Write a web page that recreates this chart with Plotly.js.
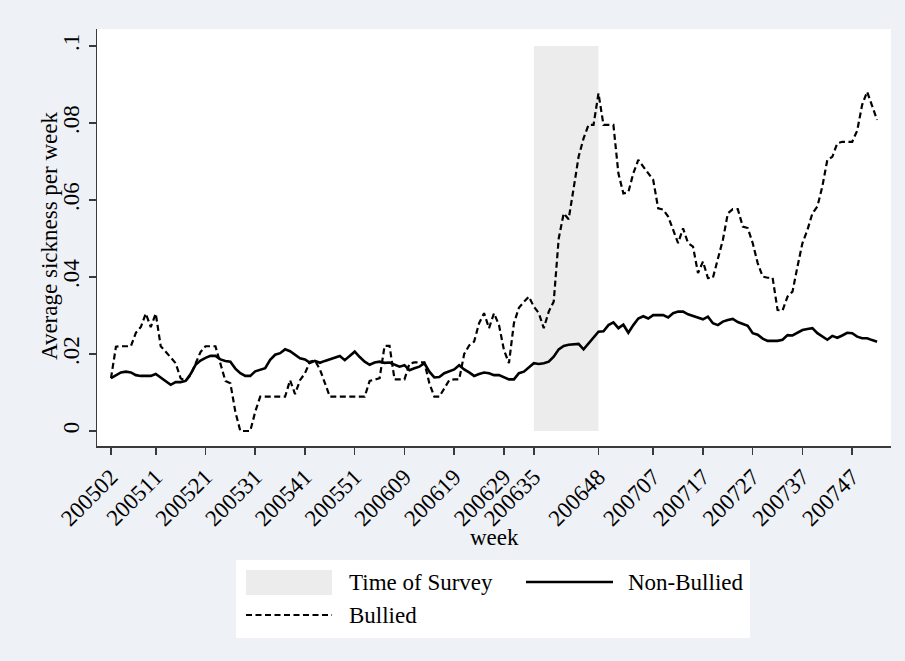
<!DOCTYPE html>
<html>
<head>
<meta charset="utf-8">
<script src="https://cdn.plot.ly/plotly-3.0.1.min.js"></script>
<style>
  html, body { margin: 0; padding: 0; background: #eef1f6; }
  #chart { width: 905px; height: 661px; }
</style>
</head>
<body>
<div id="chart"></div>
<script>
// Weekly observations run from week 2 of 2005 to week 52 of 2007.
const firstWeek = 200502;
const lastWeek = 200752;

// Average sickness per week, bullied employees (dashed line).
const bullied = [
  0.0137, 0.0219, 0.022, 0.022, 0.022, 0.0255, 0.027, 0.0305, 0.027, 0.0305,
  0.022, 0.0206, 0.019, 0.0176, 0.0137, 0.013, 0.0145, 0.0175, 0.0205, 0.022,
  0.022, 0.022, 0.0175, 0.013, 0.0124, 0.005, 0.0, 0.0, 0.0, 0.005,
  0.0089, 0.0089, 0.0089, 0.0089, 0.0089, 0.0089, 0.0132, 0.0096, 0.0132, 0.015,
  0.018, 0.0183, 0.016, 0.0125, 0.0089, 0.0089, 0.0089, 0.0089, 0.0089, 0.0089,
  0.0089, 0.0089, 0.013, 0.0134, 0.0137, 0.0221, 0.0221, 0.0134, 0.0134, 0.0134,
  0.0175, 0.0178, 0.0178, 0.0178, 0.0124, 0.0089, 0.0089, 0.0111, 0.0132, 0.0134,
  0.0134, 0.02, 0.0222, 0.0232, 0.028, 0.0306, 0.0267, 0.0306, 0.0275, 0.021,
  0.0176, 0.028, 0.032, 0.0335, 0.0349, 0.0323, 0.0306, 0.0267, 0.031, 0.0336,
  0.05, 0.0565, 0.055, 0.063, 0.0712, 0.076, 0.0795, 0.0795, 0.0877, 0.0795,
  0.0795, 0.0795, 0.0669, 0.0617, 0.062, 0.0669, 0.0704, 0.0686, 0.0669, 0.0652,
  0.0578, 0.0575, 0.0557, 0.0522, 0.0488, 0.0526, 0.0488, 0.0479, 0.041, 0.044,
  0.0397, 0.0398, 0.0444, 0.0496, 0.0565, 0.0576, 0.0576, 0.0531, 0.0527, 0.0488,
  0.0436, 0.0401, 0.0398, 0.0398, 0.0314, 0.0313, 0.0349, 0.0362, 0.0427, 0.0488,
  0.0522, 0.0565, 0.0583, 0.0635, 0.0704, 0.0712, 0.0747, 0.0751, 0.0751, 0.0751,
  0.078, 0.0847, 0.0881, 0.0842, 0.0808
];

// Average sickness per week, non-bullied employees (solid line).
const nonBullied = [
  0.0137, 0.0145, 0.0152, 0.0154, 0.0152, 0.0145, 0.0143, 0.0143, 0.0143, 0.0148,
  0.0138, 0.013, 0.012, 0.0127, 0.0127, 0.013, 0.0148, 0.0172, 0.0183, 0.019,
  0.0195, 0.0195, 0.0186, 0.0182, 0.018, 0.0162, 0.015, 0.0143, 0.0143, 0.0155,
  0.016, 0.0163, 0.0185, 0.0198, 0.0202, 0.0212, 0.0207, 0.0199, 0.0189, 0.0186,
  0.0177, 0.0182, 0.0177, 0.0182, 0.0186, 0.019, 0.0195, 0.0184, 0.0195, 0.0206,
  0.0192, 0.018, 0.0172, 0.0178, 0.018, 0.0177, 0.0178, 0.0172, 0.0167, 0.0171,
  0.0158, 0.0163, 0.0167, 0.0176, 0.0154, 0.0139, 0.014, 0.015, 0.0156, 0.016,
  0.0171, 0.016, 0.0152, 0.0143, 0.0148, 0.0152, 0.015, 0.0145, 0.0145, 0.0139,
  0.0134, 0.0134, 0.015, 0.0154, 0.0165, 0.0176, 0.0174, 0.0176, 0.018, 0.0193,
  0.0212, 0.0221, 0.0224, 0.0225, 0.0226, 0.0212, 0.0228, 0.0241, 0.0258, 0.0259,
  0.0275, 0.0282, 0.0267, 0.0276, 0.0255, 0.0275, 0.0292, 0.0298, 0.0292, 0.0301,
  0.0301, 0.0301, 0.0295, 0.0306, 0.031, 0.031, 0.0303, 0.0299, 0.0294, 0.029,
  0.0297, 0.028, 0.0275, 0.0284, 0.0288, 0.0291, 0.0283, 0.0277, 0.0273, 0.0254,
  0.025, 0.024, 0.0234, 0.0234, 0.0234, 0.0237, 0.0249, 0.0248, 0.0255, 0.0262,
  0.0265, 0.0267, 0.0254, 0.0246, 0.0237, 0.0247, 0.0242, 0.0248, 0.0255, 0.0254,
  0.0245, 0.0241, 0.0241, 0.0236, 0.0232
];

// Survey period (first and last week) and the height of its band.
const surveyWeeks = [200635, 200648];
const surveyBand = [0, 0.1];

// Axis tick labels.
const xTickWeeks = ['200502', '200511', '200521', '200531', '200541', '200551', '200609', '200619',
                    '200629', '200635', '200648', '200707', '200717', '200727', '200737', '200747'];
const yTickValues = [0, 0.02, 0.04, 0.06, 0.08, 0.1];
const yTickLabels = ['0', '.02', '.04', '.06', '.08', '.1'];

// Continuous week index (52 weeks per year), so the axis spacing follows time.
const weekIndex = code => {
  const c = Number(code);
  return (Math.floor(c / 100) - 2005) * 52 + (c % 100);
};

const weeks = [];
for (let y = 2005; y <= 2007; y++) {
  for (let w = 1; w <= 52; w++) {
    const code = y * 100 + w;
    if (code >= firstWeek && code <= lastWeek) weeks.push(code);
  }
}
const xs = weeks.map(weekIndex);

const s0 = weekIndex(surveyWeeks[0]);
const s1 = weekIndex(surveyWeeks[1]);

const FONT = 'Liberation Serif, Times New Roman, serif';
const INK = '#000000';
const AXIS = '#3a3a3a';
const BAND = '#ececec';

const traces = [
  {
    x: [s0, s1, s1, s0, s0],
    y: [surveyBand[0], surveyBand[0], surveyBand[1], surveyBand[1], surveyBand[0]],
    type: 'scatter', mode: 'lines', fill: 'toself',
    fillcolor: BAND, line: { width: 0, color: BAND },
    name: 'Time of Survey', showlegend: false, hoverinfo: 'skip'
  },
  {
    x: xs, y: nonBullied, type: 'scatter', mode: 'lines',
    line: { color: INK, width: 2.6 },
    name: 'Non-Bullied', showlegend: false
  },
  {
    x: xs, y: bullied, type: 'scatter', mode: 'lines',
    line: { color: INK, width: 2.2, dash: '6px,3.5px' },
    name: 'Bullied', showlegend: false
  }
];

// Plot-area box in page pixels; used to place titles and the legend block.
const L = 97, R = 891, T = 29, B = 446;
const px = x => (x - L) / (R - L);
const py = y => (B - y) / (B - T);

const legendShapes = [
  { type: 'rect', xref: 'paper', yref: 'paper', x0: px(236), x1: px(750), y0: py(638), y1: py(560),
    fillcolor: '#ffffff', line: { width: 0 }, layer: 'above' },
  { type: 'rect', xref: 'paper', yref: 'paper', x0: px(246), x1: px(332), y0: py(595), y1: py(570),
    fillcolor: BAND, line: { width: 0 }, layer: 'above' },
  { type: 'line', xref: 'paper', yref: 'paper', x0: px(526), x1: px(613), y0: py(582), y1: py(582),
    line: { color: INK, width: 2.6 }, layer: 'above' },
  { type: 'line', xref: 'paper', yref: 'paper', x0: px(246), x1: px(332), y0: py(615), y1: py(615),
    line: { color: INK, width: 2.2, dash: '6px,3.5px' }, layer: 'above' }
];

const label = (text, x, y, opts) => Object.assign({
  text, xref: 'paper', yref: 'paper', x: px(x), y: py(y),
  xanchor: 'left', yanchor: 'middle', showarrow: false,
  font: { family: FONT, size: 23, color: INK }
}, opts || {});

const layout = {
  width: 905, height: 661,
  paper_bgcolor: '#eef1f6', plot_bgcolor: '#ffffff',
  margin: { l: L, r: 905 - R, t: T, b: 661 - B, pad: 0 },
  font: { family: FONT, color: INK },
  showlegend: false,
  xaxis: {
    range: [-0.81, 158.8],
    tickmode: 'array', tickvals: xTickWeeks.map(weekIndex), ticktext: xTickWeeks,
    tickangle: -45, ticks: 'outside', ticklen: 7, tickwidth: 1.5, tickcolor: AXIS,
    tickfont: { family: FONT, size: 23, color: INK },
    showline: true, linecolor: AXIS, linewidth: 1.5,
    showgrid: false, zeroline: false, automargin: false
  },
  yaxis: {
    range: [-0.0039, 0.1044],
    tickmode: 'array', tickvals: yTickValues, ticktext: yTickLabels,
    tickangle: -90, ticks: 'outside', ticklen: 7, tickwidth: 1.5, tickcolor: AXIS,
    tickfont: { family: FONT, size: 23, color: INK },
    showline: true, linecolor: AXIS, linewidth: 1.5,
    showgrid: false, zeroline: false, automargin: false
  },
  shapes: legendShapes,
  annotations: [
    // axis titles
    label('week', 494, 537, { xanchor: 'center' }),
    label('Average sickness per week', 49, 236, { xanchor: 'center', textangle: -90 }),
    // legend entries
    label('Time of Survey', 347, 582),
    label('Non-Bullied', 626, 582),
    label('Bullied', 347, 615)
  ]
};

Plotly.newPlot('chart', traces, layout, { displayModeBar: false, staticPlot: true });
</script>
</body>
</html>
